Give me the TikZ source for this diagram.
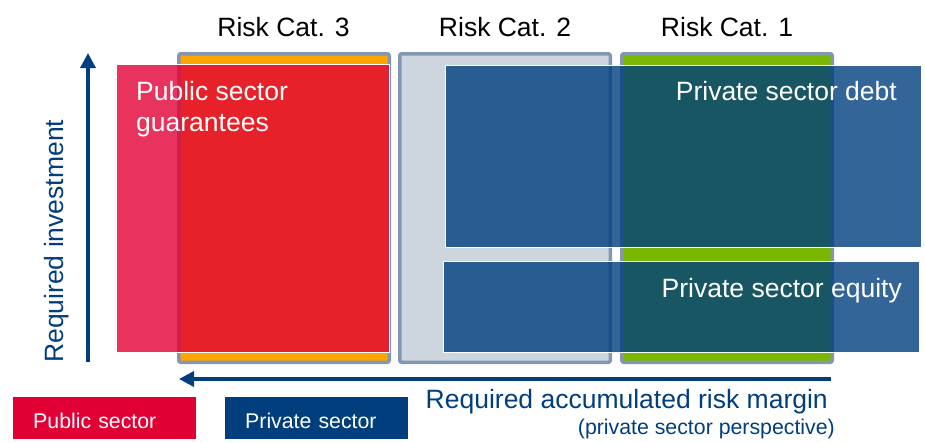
\documentclass[tikz,border=0pt]{standalone}
\usepackage{fontspec}
\setmainfont{Liberation Sans}
\usetikzlibrary{arrows.meta}

\definecolor{pubred}{RGB}{225,0,52}
\definecolor{privblue}{RGB}{0,62,126}
\definecolor{colframe}{RGB}{132,151,176}
\definecolor{catorange}{RGB}{255,165,0}
\definecolor{catgreen}{RGB}{122,184,0}
\definecolor{catgray}{RGB}{205,213,222}

\newcommand{\bigsize}{\fontsize{26.5}{31}\selectfont}
\newcommand{\smallsize}{\fontsize{21.3}{25}\selectfont}

\begin{document}
\begin{tikzpicture}[x=1pt,y=-1pt,
  catcolumn/.style={draw=colframe, line width=3.5pt, rounded corners=2pt,
    inner sep=0pt, minimum width=210.5pt, minimum height=308.5pt},
  sectorbox/.style={draw=white, line width=1pt, fill opacity=0.8,
    inner sep=0pt},
  boxtext/.style={text=white, inner sep=0pt, font=\bigsize},
  cattext/.style={text=black, inner sep=0pt, font=\bigsize, anchor=base},
  axislabel/.style={text=privblue, inner sep=0pt},
  axis/.style={draw=privblue, line width=3.5pt,
    -{Triangle[width=15pt,length=15pt]}},
  legendbox/.style={anchor=north west, minimum height=42pt, text width=143pt,
    inner xsep=20pt, inner ysep=0pt, text height=20pt, text depth=0pt,
    align=left, text=white, font=\smallsize}
]
\useasboundingbox (0,0) rectangle (925,442);

% risk category columns
\node[catcolumn, fill=catorange] (cat3) at (284,208) {};
\node[catcolumn, fill=catgray]   (cat2) at (505,208) {};
\node[catcolumn, fill=catgreen]  (cat1) at (727,208) {};

\node[cattext] (cat3lbl) at (283.5,36) {Risk Cat. 3};
\node[cattext] (cat2lbl) at (505,36) {Risk Cat. 2};
\node[cattext] (cat1lbl) at (727,36) {Risk Cat. 1};

% financing blocks
\node[sectorbox, fill=pubred, minimum width=273pt, minimum height=287.5pt]
  (guar) at (252.5,208.25) {};
\node[sectorbox, fill=privblue, minimum width=476pt, minimum height=182pt]
  (debt) at (683,156) {};
\node[sectorbox, fill=privblue, minimum width=476pt, minimum height=90.5pt]
  (equity) at (681,306.75) {};

\node[boxtext, anchor=base west] (guarlbl1) at (136,100) {Public sector};
\node[boxtext, anchor=base west] (guarlbl2) at (136,131) {guarantees};
\node[boxtext, anchor=base east] (debtlbl) at (897,100) {Private sector debt};
\node[boxtext, anchor=base east] (equitylbl) at (902,297) {Private sector equity};

% axes
\coordinate (ybot) at (88,362);
\coordinate (ytop) at (88,53);
\draw[axis] (ybot) -- (ytop);
\coordinate (xright) at (831,379);
\coordinate (xleft) at (179,379);
\draw[axis] (xright) -- (xleft);

\node[axislabel, font=\bigsize, rotate=90, anchor=base west] (ylbl)
  at (63,363) {Required investment};
\node[axislabel, font=\bigsize, anchor=base east] (xlbl)
  at (828,408) {Required accumulated risk margin};
\node[axislabel, font=\smallsize, anchor=base east] (xsub)
  at (835,434) {(private sector perspective)};

% legend
\node[legendbox, fill=pubred] (legpub) at (13,397) {Public sector};
\node[legendbox, fill=privblue] (legpriv) at (225,397) {Private sector};
\end{tikzpicture}
\end{document}
